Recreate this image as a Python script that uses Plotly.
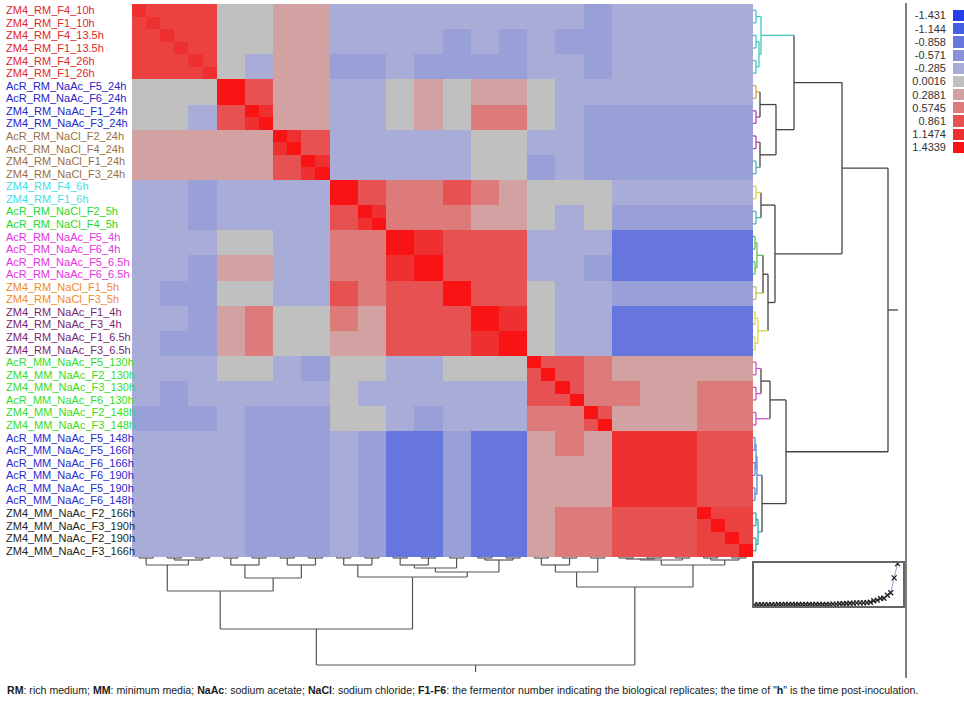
import plotly.graph_objects as go

W, H = 964, 701

sample_labels = [
    "ZM4_RM_F4_10h", "ZM4_RM_F1_10h", "ZM4_RM_F4_13.5h", "ZM4_RM_F1_13.5h",
    "ZM4_RM_F4_26h", "ZM4_RM_F1_26h",
    "AcR_RM_NaAc_F5_24h", "AcR_RM_NaAc_F6_24h", "ZM4_RM_NaAc_F1_24h", "ZM4_RM_NaAc_F3_24h",
    "AcR_RM_NaCl_F2_24h", "AcR_RM_NaCl_F4_24h", "ZM4_RM_NaCl_F1_24h", "ZM4_RM_NaCl_F3_24h",
    "ZM4_RM_F4_6h", "ZM4_RM_F1_6h",
    "AcR_RM_NaCl_F2_5h", "AcR_RM_NaCl_F4_5h",
    "AcR_RM_NaAc_F5_4h", "AcR_RM_NaAc_F6_4h", "AcR_RM_NaAc_F5_6.5h", "AcR_RM_NaAc_F6_6.5h",
    "ZM4_RM_NaCl_F1_5h", "ZM4_RM_NaCl_F3_5h",
    "ZM4_RM_NaAc_F1_4h", "ZM4_RM_NaAc_F3_4h", "ZM4_RM_NaAc_F1_6.5h", "ZM4_RM_NaAc_F3_6.5h",
    "AcR_MM_NaAc_F5_130h", "ZM4_MM_NaAc_F2_130h", "ZM4_MM_NaAc_F3_130h", "AcR_MM_NaAc_F6_130h",
    "ZM4_MM_NaAc_F2_148h", "ZM4_MM_NaAc_F3_148h",
    "AcR_MM_NaAc_F5_148h", "AcR_MM_NaAc_F5_166h", "AcR_MM_NaAc_F6_166h", "AcR_MM_NaAc_F6_190h",
    "AcR_MM_NaAc_F5_190h", "AcR_MM_NaAc_F6_148h",
    "ZM4_MM_NaAc_F2_166h", "ZM4_MM_NaAc_F3_190h", "ZM4_MM_NaAc_F2_190h", "ZM4_MM_NaAc_F3_166h",
]
label_group_sizes = [6, 4, 4, 2, 2, 4, 2, 4, 6, 6, 4]
label_group_colors = ["#e3261f", "#2525c8", "#9a7040", "#3ee0e6", "#2ad92a", "#e433e0",
                      "#f08a22", "#7a1f70", "#34de1e", "#2a2acc", "#1e1e1e"]

legend_values = [-1.431, -1.144, -0.858, -0.571, -0.285, 0.0016,
                 0.2881, 0.5745, 0.861, 1.1474, 1.4339]
legend_labels = ["-1.431", "-1.144", "-0.858", "-0.571", "-0.285", "0.0016",
                 "0.2881", "0.5745", "0.861", "1.1474", "1.4339"]
legend_colors = ["#2440ee", "#4560e4", "#6676de", "#8a93d9", "#a8acd6", "#c0c0c0",
                 "#d2a2a2", "#dd7a7a", "#e65252", "#ef3030", "#f81414"]

# correlation level per pair of neighbouring samples (upper triangle).
# lower-case a..k = the legend levels, upper-case = half way to the next level.
level_codes = "abcdefghijk"
pair_upper = [
    "IIIffgg eeeeeee ee D eeeee",
    "IIffgg eeee DeD eDD eeeee",
    "Ifegg DDeDDDD eeD eeeee",
    "kigg eefgfgg fee eeeee",
    "jgg eefgfhh feD DDDDD",
    "ji eeeeeff eeD DDDDD",
    "j eeeeeff DeD DDDDD",
    "kihhihg fff eeeee",
    "jhhhgg fef DDDDD",
    "kjiii eee ccccc",
    "kiii eeD ccccc",
    "kii fee DDDDD",
    "kj fee ccccc",
    "k fee ccccc",
    "iih ggggg",
    "ih hgghh",
    "i ggghh",
    "jjjii",
    "jjii",
    "jii",
    "II",
    "I",
]
# self-correlation shade of the samples in each pair (diagonal cells)
pair_self = "jjjkkkkkkkkkkkkkkjjjkk"

# hierarchical clustering: (left node, right node, row-tree height, column-tree height)
# leaves are 0..43, merge k creates node 44+k
merges = [
    (0, 1, 3, 1), (2, 3, 3, 1), (4, 5, 3, 1), (45, 46, 6, 3), (44, 47, 8, 8),
    (6, 7, 3, 1), (8, 9, 3, 1), (49, 50, 7, 8),
    (10, 11, 3, 1), (12, 13, 3, 1), (52, 53, 7, 8),
    (51, 54, 23, 21), (48, 55, 41, 34),
    (14, 15, 3, 1), (16, 17, 3, 1), (57, 58, 8, 8),
    (18, 19, 2, 1), (20, 21, 2, 1), (60, 61, 4, 8), (22, 23, 3, 1), (62, 63, 10, 11),
    (24, 25, 2, 1), (26, 27, 2, 1), (65, 66, 5, 3), (64, 67, 15, 15),
    (59, 68, 22, 20), (56, 69, 89, 72),
    (28, 29, 3, 1), (30, 31, 3, 1), (71, 72, 8, 8), (32, 33, 3, 1), (73, 74, 17, 15),
    (34, 35, 2, 1), (36, 37, 2, 1), (76, 77, 3, 2), (38, 39, 2, 1), (78, 79, 4, 3),
    (40, 41, 3, 1), (42, 43, 3, 1), (81, 82, 5, 3), (80, 83, 9, 8),
    (75, 84, 33, 30), (70, 85, 135, 108),
]

cyan, orange, magenta, teal = "#42c6bd", "#d6a243", "#b443b4", "#4fb5ad"
yellow, green, olive, pink, blue = "#ddd24a", "#66bf66", "#b9c751", "#c257c2", "#5b8ad6"
row_branch_colors = {
    44: cyan, 45: cyan, 46: cyan, 47: cyan, 48: cyan,
    49: orange, 50: magenta, 52: magenta, 53: teal,
    57: yellow, 58: teal, 60: green, 61: green, 62: green, 63: olive,
    65: yellow, 66: yellow, 67: yellow,
    71: pink, 72: pink, 74: pink,
    76: blue, 77: blue, 78: blue, 79: blue, 80: blue,
    81: "#2fa6b6", 82: "#2fa6b6", 83: "#2fa6b6",
}
dark_line = "#444444"
font_family = "Liberation Sans, Arial, sans-serif"


def px_x(x):
    return x / W


def px_y(y):
    return 1 - y / H


level_value = dict(zip(level_codes, legend_values))
for k in range(len(level_codes) - 1):
    level_value[level_codes[k].upper()] = (legend_values[k] + legend_values[k + 1]) / 2

n_pairs = len(pair_upper)
pair_mat = [[0.0] * n_pairs for _ in range(n_pairs)]
for p, row in enumerate(pair_upper):
    codes = row.replace(" ", "")
    assert len(codes) == n_pairs - p, (p, len(codes))
    for k, ch in enumerate(codes):
        q = p + k
        pair_mat[p][q] = pair_mat[q][p] = level_value[ch]

n = len(sample_labels)
z = [[pair_mat[i // 2][j // 2] for j in range(n)] for i in range(n)]
for i in range(n):
    z[i][i] = level_value[pair_self[i // 2]]

vmin, vmax = legend_values[0], legend_values[-1]
colorscale = [[(v - vmin) / (vmax - vmin), c] for v, c in zip(legend_values, legend_colors)]

# node positions / heights
pos = {i: float(i) for i in range(n)}
h_row = {i: 0.0 for i in range(n)}
h_col = {i: 0.0 for i in range(n)}
parent = {}
for k, (a, b, hr, hc) in enumerate(merges):
    m = n + k
    pos[m] = (pos[a] + pos[b]) / 2
    h_row[m] = hr
    h_col[m] = hc
    parent[a] = m
    parent[b] = m
root = n + len(merges) - 1


def node_color(node):
    if node < n:
        return row_branch_colors.get(parent[node], dark_line)
    return row_branch_colors.get(node, dark_line)


row_segs = {}
col_xs, col_ys = [], []


def add_seg(store, color, xs, ys):
    sx, sy = store.setdefault(color, ([], []))
    sx.extend(xs + [None])
    sy.extend(ys + [None])


for k, (a, b, hr, hc) in enumerate(merges):
    m = n + k
    for child in (a, b):
        add_seg(row_segs, node_color(child), [h_row[child], hr], [pos[child], pos[child]])
        col_xs.extend([pos[child], pos[child], None])
        col_ys.extend([h_col[child], hc, None])
    add_seg(row_segs, node_color(m), [hr, hr], [pos[a], pos[b]])
    col_xs.extend([pos[a], pos[b], None])
    col_ys.extend([hc, hc, None])

# root stems
add_seg(row_segs, dark_line, [h_row[root], h_row[root] + 10], [pos[root], pos[root]])
col_xs.extend([pos[root], pos[root], None])
col_ys.extend([h_col[root], h_col[root] + 7, None])

fig = go.Figure()

fig.add_trace(go.Heatmap(
    z=z, x=list(range(n)), y=list(range(n)), colorscale=colorscale,
    zmin=vmin, zmax=vmax, showscale=False, xaxis="x", yaxis="y",
    hovertemplate="%{z}<extra></extra>",
))

for color, (xs, ys) in row_segs.items():
    fig.add_trace(go.Scatter(
        x=xs, y=ys, mode="lines", line=dict(color=color, width=1.3),
        xaxis="x2", yaxis="y2", hoverinfo="skip", showlegend=False,
    ))

fig.add_trace(go.Scatter(
    x=col_xs, y=col_ys, mode="lines", line=dict(color="#555555", width=1.2),
    xaxis="x3", yaxis="y3", hoverinfo="skip", showlegend=False,
))

merge_heights = sorted(h for _, _, h, _ in merges)
fig.add_trace(go.Scatter(
    x=list(range(1, len(merge_heights) + 1)), y=merge_heights, mode="lines+markers",
    line=dict(color="#9a9ad8", width=1),
    marker=dict(symbol="x-thin", size=5, color="#222222", line=dict(width=1.3, color="#222222")),
    xaxis="x4", yaxis="y4", hoverinfo="skip", showlegend=False,
))

fig.add_trace(go.Heatmap(
    z=[[v] for v in legend_values], x=[0], y=list(range(len(legend_values))),
    colorscale=colorscale, zmin=vmin, zmax=vmax, showscale=False, ygap=2,
    xaxis="x5", yaxis="y5", hoverinfo="skip",
))

hidden = dict(showgrid=False, zeroline=False, showticklabels=False, ticks="", showline=False)

annotations = []
row = 0
for size, color in zip(label_group_sizes, label_group_colors):
    for _ in range(size):
        annotations.append(dict(
            x=px_x(4), y=row, xref="paper", yref="y", xanchor="left", yanchor="middle",
            text=sample_labels[row], showarrow=False,
            font=dict(size=11, color=color, family=font_family),
        ))
        row += 1

annotations.append(dict(
    x=px_x(5), y=px_y(690), xref="paper", yref="paper", xanchor="left", yanchor="middle",
    showarrow=False, font=dict(size=10.6, color="#1a1a1a", family=font_family),
    text=("<b>RM</b>: rich medium; <b>MM</b>: minimum media; <b>NaAc</b>: sodium acetate; "
          "<b>NaCl</b>: sodium chloride; <b>F1-F6</b>: the fermentor number indicating the "
          "biological replicates; the time of \"<b>h</b>\" is the time post-inoculation."),
))

fig.update_layout(
    width=W, height=H, margin=dict(l=0, r=0, t=0, b=0),
    paper_bgcolor="white", plot_bgcolor="white",
    font=dict(family=font_family, size=11, color="#333333"),
    showlegend=False,
    xaxis=dict(domain=[px_x(132), px_x(753)], range=[-0.5, n - 0.5], anchor="y", **hidden),
    yaxis=dict(domain=[px_y(557), px_y(4)], range=[n - 0.5, -0.5], anchor="x", **hidden),
    xaxis2=dict(domain=[px_x(753), px_x(900)], range=[0, 147], anchor="y2", **hidden),
    yaxis2=dict(domain=[px_y(557), px_y(4)], range=[n - 0.5, -0.5], anchor="x2", **hidden),
    xaxis3=dict(domain=[px_x(132), px_x(753)], range=[-0.5, n - 0.5], anchor="y3", **hidden),
    yaxis3=dict(domain=[px_y(675), px_y(557)], range=[118, 0], anchor="x3", **hidden),
    xaxis4=dict(domain=[px_x(754), px_x(903)], range=[0.8, 44.6], anchor="y4",
                showgrid=False, zeroline=False, showticklabels=False, ticks="",
                showline=True, mirror=True, linecolor="#666666", linewidth=1.5),
    yaxis4=dict(domain=[px_y(606), px_y(563)], range=[-2, 137], anchor="x4",
                showgrid=False, zeroline=False, showticklabels=False, ticks="",
                showline=True, mirror=True, linecolor="#666666", linewidth=1.5),
    xaxis5=dict(domain=[px_x(953), 1.0], range=[-0.5, 0.5], anchor="y5", **hidden),
    yaxis5=dict(domain=[px_y(154), px_y(9)], range=[len(legend_values) - 0.5, -0.5], anchor="x5",
                showgrid=False, zeroline=False, ticks="", showline=False,
                tickvals=list(range(len(legend_values))), ticktext=legend_labels,
                tickfont=dict(size=11, color="#333333"), ticklabelstandoff=6),
    annotations=annotations,
    shapes=[dict(type="line", xref="paper", yref="paper",
                 x0=px_x(906), x1=px_x(906), y0=px_y(3), y1=px_y(678),
                 line=dict(color="#555555", width=1.5))],
)

# the page body has a default margin; remove it so the figure sits at the window origin
fig.write_html("out.html", config={"displayModeBar": False},
               post_script="document.body.style.margin = '0';")
